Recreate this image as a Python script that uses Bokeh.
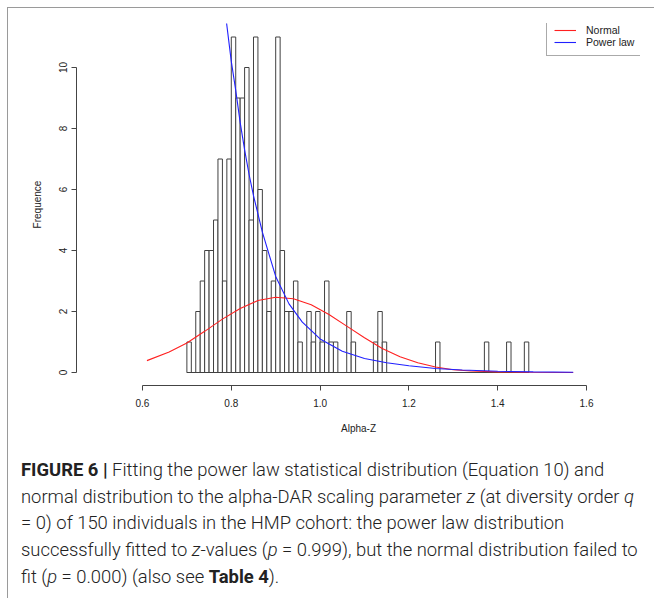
import numpy as np
from bokeh.plotting import figure
from bokeh.models import Range1d, FixedTicker, Legend, LegendItem, Div, ColumnDataSource
from bokeh.layouts import column
from bokeh.embed import file_html
from bokeh.resources import INLINE

# ---------------- data ----------------
bin_start = 0.70
bin_width = 0.01
counts = [1, 0, 2, 3, 4, 4, 5, 7, 3, 7,
          11, 9, 9, 10, 5, 11, 6, 4, 2, 3,
          11, 4, 2, 2, 3, 1, 0, 2, 1, 2,
          1, 3, 1, 1, 0, 0, 2, 1, 0, 0,
          0, 0, 1, 2, 1, 0, 0, 0, 0, 0,
          0, 0, 0, 0, 0, 0, 1, 0, 0, 0,
          0, 0, 0, 0, 0, 0, 0, 1, 0, 0,
          0, 0, 1, 0, 0, 0, 1]

normal_x = [0.61, 0.66, 0.70, 0.74, 0.78, 0.82, 0.86, 0.90, 0.94, 0.98, 1.02,
            1.06, 1.10, 1.14, 1.18, 1.22, 1.26, 1.30, 1.34, 1.40, 1.46, 1.57]
normal_y = [0.39, 0.67, 0.97, 1.35, 1.75, 2.10, 2.36, 2.47, 2.42, 2.22, 1.90,
            1.52, 1.14, 0.79, 0.52, 0.32, 0.18, 0.09, 0.05, 0.02, 0.01, 0.00]

power_x = [0.789, 0.80, 0.81, 0.82, 0.83, 0.84, 0.85, 0.87, 0.90, 0.93, 0.96,
           1.00, 1.05, 1.10, 1.15, 1.20, 1.26, 1.32, 1.40, 1.48, 1.57]
power_y = [11.5, 10.2, 9.25, 8.2, 7.3, 6.5, 5.8, 4.6, 3.15, 2.25, 1.65,
           1.10, 0.70, 0.46, 0.32, 0.22, 0.13, 0.08, 0.04, 0.02, 0.01]

x_ticks = [0.6, 0.8, 1.0, 1.2, 1.4, 1.6]
x_tick_labels = ["0.6", "0.8", "1.0", "1.2", "1.4", "1.6"]
y_ticks = [0, 2, 4, 6, 8, 10]

series_names = ["Normal", "Power law"]
series_colors = ["#ff2020", "#2020ff"]

# ---------------- figure ----------------
FONT = "Liberation Sans"
p = figure(width=638, height=432,
           x_range=Range1d(0.4514, 1.7216), y_range=Range1d(-0.426, 11.443),
           output_backend="svg", toolbar_location=None,
           min_border_left=68, min_border_right=6,
           min_border_top=15, min_border_bottom=55,
           x_axis_label="Alpha-Z", y_axis_label="Frequence")
p.outline_line_color = None
p.xgrid.visible = False
p.ygrid.visible = False

left = bin_start + bin_width * np.arange(len(counts))
src = ColumnDataSource(dict(left=left, right=left + bin_width,
                            top=np.array(counts, dtype=float),
                            bottom=np.zeros(len(counts))))
p.quad(left="left", right="right", top="top", bottom="bottom", source=src,
       fill_color="white", line_color="#404040", line_width=1)
p.segment(x0=[left[0]], y0=[0], x1=[left[-1] + bin_width], y1=[0],
          line_color="#404040", line_width=1)

r_norm = p.line(normal_x, normal_y, line_color=series_colors[0], line_width=1.1)
r_pow = p.line(power_x, power_y, line_color=series_colors[1], line_width=1.1)

legend = Legend(items=[LegendItem(label=series_names[0], renderers=[r_norm]),
                       LegendItem(label=series_names[1], renderers=[r_pow])],
                location=(470, 329))
legend.border_line_color = "#555555"
legend.border_line_width = 1
legend.background_fill_color = "white"
legend.background_fill_alpha = 1
legend.padding = 7
legend.margin = 0
legend.spacing = 0
legend.glyph_width = 22
legend.glyph_height = 10
legend.label_height = 10
legend.label_standoff = 10
legend.label_text_font = FONT
legend.label_text_font_size = "10.5px"
legend.label_text_color = "#222222"
p.add_layout(legend)

for ax in (p.xaxis[0], p.yaxis[0]):
    ax.axis_line_color = "#444444"
    ax.major_tick_line_color = "#444444"
    ax.minor_tick_line_color = None
    ax.major_tick_out = 5
    ax.major_tick_in = 0
    ax.major_label_text_font = FONT
    ax.major_label_text_font_size = "10px"
    ax.major_label_text_color = "#222222"
    ax.axis_label_text_font = FONT
    ax.axis_label_text_font_size = "10px"
    ax.axis_label_text_font_style = "normal"
    ax.axis_label_text_color = "#222222"

xa = p.xaxis[0]
xa.ticker = FixedTicker(ticks=x_ticks)
xa.major_label_overrides = {t: s for t, s in zip(x_ticks, x_tick_labels)}
xa.bounds = (x_ticks[0], x_ticks[-1])
xa.major_label_standoff = 8
xa.axis_label_standoff = 13

ya = p.yaxis[0]
ya.ticker = FixedTicker(ticks=y_ticks)
ya.bounds = (y_ticks[0], y_ticks[-1])
ya.major_label_orientation = "vertical"
ya.major_label_standoff = 4
ya.axis_label_standoff = 14

caption_html = (
    '<div style="font-family:Roboto, sans-serif; font-weight:300; font-size:18.4px; '
    'line-height:26.7px; color:#222; padding:12px 0 0 8px; white-space:nowrap;">'
    '<b style="font-weight:700;">FIGURE 6 |</b> Fitting the power law statistical distribution (Equation 10) and<br>'
    'normal distribution to the alpha-DAR scaling parameter <i>z</i> (at diversity order <i>q</i><br>'
    '= 0) of 150 individuals in the HMP cohort: the power law distribution<br>'
    'successfully fitted to <i>z</i>-values (<i>p</i> = 0.999), but the normal distribution failed to<br>'
    'fit (<i>p</i> = 0.000) (also see <b style="font-weight:700;">Table 4</b>).'
    '</div>'
)
caption = Div(text=caption_html, width=646, height=150)

layout = column(p, caption, spacing=0,
                styles={"margin-left": "7px", "margin-top": "7px",
                        "border-left": "1px solid #9a9a9a",
                        "border-top": "1px solid #9a9a9a"})

open("out.html", "w").write(file_html(layout, INLINE))
